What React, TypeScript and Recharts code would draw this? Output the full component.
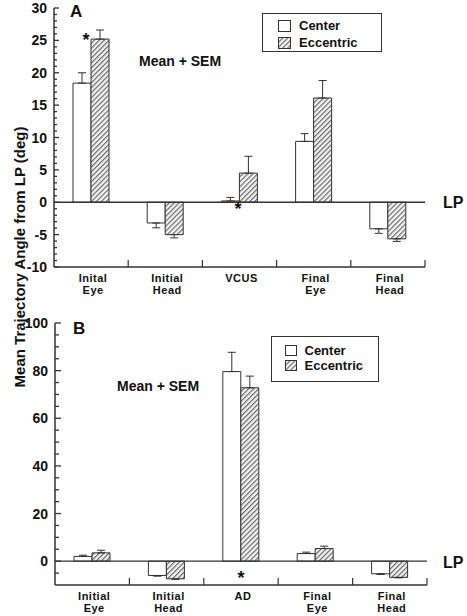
import { Bar, BarChart, ErrorBar, Legend, ReferenceLine, XAxis, YAxis } from "recharts";

const FONT = "'Liberation Sans', Arial, sans-serif";
const INK = "#333";

// panel A
const categoriesA = ["Inital Eye", "Initial Head", "VCUS", "Final Eye", "Final Head"];
const centerA = [18.4, -3.2, 0.2, 9.4, -4.1];
const centerSemA = [1.6, 0.75, 0.55, 1.2, 0.7];
const eccentricA = [25.2, -5.0, 4.5, 16.1, -5.65];
const eccentricSemA = [1.4, 0.5, 2.6, 2.7, 0.4];
const majorTicksA = [-10, -5, 0, 5, 10, 15, 20, 25, 30];

// panel B
const categoriesB = ["Initial Eye", "Initial Head", "AD", "Final Eye", "Final Head"];
const centerB = [2.0, -6.0, 79.6, 3.2, -5.3];
const centerSemB = [0.5, 0.3, 8.1, 0.6, 0.3];
const eccentricB = [3.5, -7.4, 72.8, 5.3, -6.8];
const eccentricSemB = [1.1, 0.2, 4.9, 1.0, 0.2];
const majorTicksB = [0, 20, 40, 60, 80, 100];

// one-sided SEM: up for positive bars, down for negative
const oneSided = (v: number, s: number) => (v >= 0 ? [0, s] : [s, 0]);

const buildRows = (cats: string[], c: number[], cs: number[], e: number[], es: number[]) =>
  cats.map((name, i) => ({
    name,
    center: c[i],
    centerErr: oneSided(c[i], cs[i]),
    eccentric: e[i],
    eccentricErr: oneSided(e[i], es[i]),
  }));

const rowsA = buildRows(categoriesA, centerA, centerSemA, eccentricA, eccentricSemA);
const rowsB = buildRows(categoriesB, centerB, centerSemB, eccentricB, eccentricSemB);

const range = (lo: number, hi: number, step: number) => {
  const out: number[] = [];
  for (let v = lo; v <= hi; v += step) out.push(v);
  return out;
};

const YTick = (props: any) => {
  const { x, y, payload, majors, major, minor, fontSize } = props;
  const isMajor = majors.includes(payload.value);
  return (
    <g>
      <line x1={x} x2={x + (isMajor ? major : minor)} y1={y} y2={y} stroke={INK} strokeWidth={1.3} />
      {isMajor && (
        <text x={x - 7} y={y} dy="0.36em" textAnchor="end" fontFamily={FONT} fontWeight="bold" fontSize={fontSize} fill="#111">
          {payload.value}
        </text>
      )}
    </g>
  );
};

const XTick = (props: any) => {
  const { x, y, payload, half, first, gap } = props;
  const lines = String(payload.value).split(" ");
  return (
    <g>
      <line x1={x + half} x2={x + half} y1={y} y2={y - 7} stroke={INK} strokeWidth={1.2} />
      <text textAnchor="middle" fontFamily={FONT} fontWeight="bold" fontSize={11} letterSpacing={0.5} fill="#111">
        {lines.map((t, i) => (
          <tspan key={i} x={x + 2} y={y + first + i * gap}>
            {t}
          </tspan>
        ))}
      </text>
    </g>
  );
};

const LegendBox = ({ w, h, padTop, padLeft, row, sq }: any) => (
  <div
    style={{
      width: w,
      height: h,
      boxSizing: "border-box",
      border: `1.5px solid ${INK}`,
      background: "#fff",
      paddingTop: padTop,
      paddingLeft: padLeft,
      fontFamily: FONT,
      fontWeight: "bold",
      fontSize: 13,
      color: "#111",
    }}
  >
    {[
      { label: "Center", fill: "#fff" },
      { label: "Eccentric", fill: "url(#hatch)" },
    ].map((it) => (
      <div key={it.label} style={{ display: "flex", alignItems: "center", height: row, lineHeight: `${row}px` }}>
        <svg width={sq + 1} height={sq} style={{ marginRight: 8 }}>
          <rect x={0.5} y={0.5} width={sq} height={sq - 1} fill={it.fill} stroke={INK} strokeWidth={1} />
        </svg>
        {it.label}
      </div>
    ))}
  </div>
);

type PanelProps = {
  rows: any[];
  height: number;
  top: number;
  right: number;
  yWidth: number;
  xHeight: number;
  domain: [number, number];
  ticks: number[];
  majors: number[];
  majorLen: number;
  minorLen: number;
  labelFirst: number;
  labelGap: number;
  legendStyle: React.CSSProperties;
  legend: any;
};

const Panel = (p: PanelProps) => {
  const half = (467 - p.right - p.yWidth) / 10;
  return (
    <BarChart
      width={467}
      height={p.height}
      data={p.rows}
      margin={{ top: p.top, right: p.right, left: 0, bottom: 0 }}
      barGap={0}
      barSize={18}
    >
      <XAxis
        dataKey="name"
        height={p.xHeight}
        interval={0}
        tickSize={0}
        tickMargin={0}
        tickLine={false}
        axisLine={{ stroke: INK, strokeWidth: 1.5 }}
        tick={(tp: any) => <XTick {...tp} half={half} first={p.labelFirst} gap={p.labelGap} />}
      />
      <YAxis
        type="number"
        width={p.yWidth}
        domain={p.domain}
        ticks={p.ticks}
        interval={0}
        tickSize={0}
        tickMargin={0}
        tickLine={false}
        axisLine={{ stroke: INK, strokeWidth: 1.5 }}
        tick={(tp: any) => <YTick {...tp} majors={p.majors} major={p.majorLen} minor={p.minorLen} fontSize={14} />}
      />
      <ReferenceLine y={0} stroke={INK} strokeWidth={1.3} />
      <Bar dataKey="center" fill="#fff" stroke={INK} strokeWidth={1} isAnimationActive={false}>
        <ErrorBar dataKey="centerErr" width={4} stroke={INK} strokeWidth={1} />
      </Bar>
      <Bar dataKey="eccentric" fill="url(#hatch)" stroke={INK} strokeWidth={1} isAnimationActive={false}>
        <ErrorBar dataKey="eccentricErr" width={4} stroke={INK} strokeWidth={1} />
      </Bar>
      <Legend
        layout="horizontal"
        verticalAlign="middle"
        align="center"
        wrapperStyle={p.legendStyle}
        content={() => <LegendBox {...p.legend} />}
      />
    </BarChart>
  );
};

const txt = { fontFamily: FONT, fontWeight: "bold" as const, fill: "#111" };

export default function App() {
  return (
    <div style={{ position: "absolute", left: 0, top: 0, width: 467, height: 616, background: "#fff" }}>
      <svg width={0} height={0} style={{ position: "absolute" }}>
        <defs>
          <pattern id="hatch" width={3.5} height={3.5} patternUnits="userSpaceOnUse" patternTransform="rotate(45)">
            <rect width={3.5} height={3.5} fill="#f4f4f4" />
            <line x1={0.6} y1={0} x2={0.6} y2={3.5} stroke="#6a6a6a" strokeWidth={1.2} />
          </pattern>
        </defs>
      </svg>

      <div style={{ position: "absolute", left: 0, top: 0 }}>
        <Panel
          rows={rowsA}
          height={300}
          top={8}
          right={42}
          yWidth={54}
          xHeight={33}
          domain={[-10, 30]}
          ticks={range(-10, 30, 1)}
          majors={majorTicksA}
          majorLen={5}
          minorLen={3}
          labelFirst={15}
          labelGap={11.5}
          legendStyle={{ left: 262, top: 13, width: 120, height: 39 }}
          legend={{ w: 120, h: 39, padTop: 4, padLeft: 15, row: 16.5, sq: 12 }}
        />
      </div>

      <div style={{ position: "absolute", left: 0, top: 300 }}>
        <Panel
          rows={rowsB}
          height={316}
          top={23}
          right={40}
          yWidth={55}
          xHeight={31}
          domain={[-10, 100]}
          ticks={range(-5, 100, 5)}
          majors={majorTicksB}
          majorLen={6}
          minorLen={4}
          labelFirst={15}
          labelGap={11.5}
          legendStyle={{ left: 271, top: 36, width: 108, height: 46 }}
          legend={{ w: 108, h: 46, padTop: 6, padLeft: 12.5, row: 15, sq: 11 }}
        />
      </div>

      <svg width={467} height={616} style={{ position: "absolute", left: 0, top: 0, pointerEvents: "none" }}>
        <text {...txt} x={25} y={257} fontSize={15} textAnchor="middle" transform="rotate(-90, 25, 257)">
          Mean Trajectory Angle from LP (deg)
        </text>
        <text {...txt} x={70} y={17} fontSize={17}>A</text>
        <text {...txt} x={73} y={334} fontSize={17}>B</text>
        <text {...txt} x={139} y={66} fontSize={14}>Mean + SEM</text>
        <text {...txt} x={117} y={391} fontSize={14}>Mean + SEM</text>
        <text {...txt} x={443} y={208} fontSize={16}>LP</text>
        <text {...txt} x={443} y={568} fontSize={16}>LP</text>
        <text {...txt} x={86} y={46} fontSize={18} textAnchor="middle">*</text>
        <text {...txt} x={238} y={215} fontSize={18} textAnchor="middle">*</text>
        <text {...txt} x={241} y={584} fontSize={18} textAnchor="middle">*</text>
      </svg>
    </div>
  );
}
